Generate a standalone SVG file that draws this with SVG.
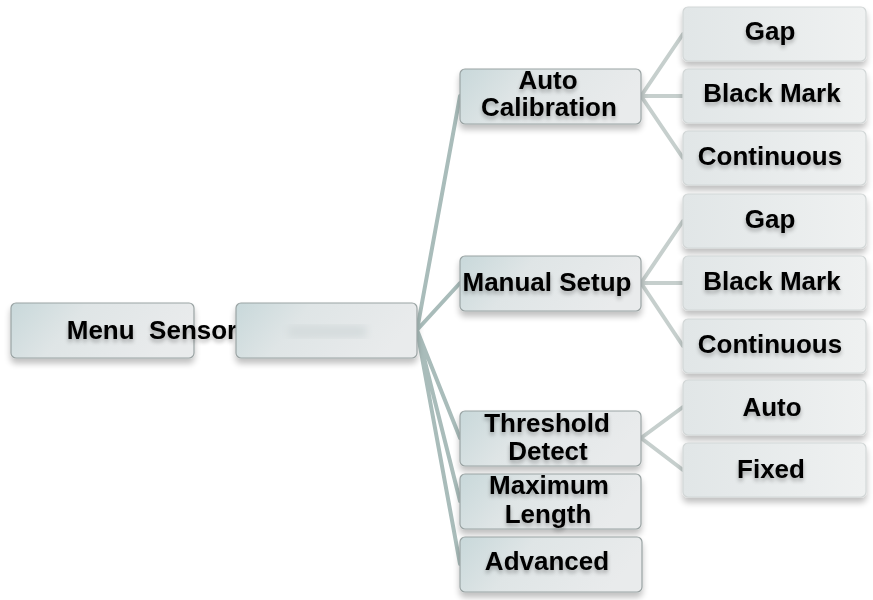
<svg xmlns="http://www.w3.org/2000/svg" width="873" height="600" viewBox="0 0 873 600">
<style>
.b{fill:url(#g);stroke:#9aa3a3;stroke-width:1.2;filter:url(#s)}
.c{fill:url(#h);stroke:#d2d7d7;stroke-width:1.2;filter:url(#s)}
.t{font-family:"Liberation Sans",Arial,sans-serif;font-weight:700;font-size:26px;fill:#050505;text-anchor:middle;filter:url(#ts)}
.l{stroke:#a9bcba;stroke-width:4;fill:none;stroke-linecap:round}
.m{stroke:#c6cfcd;stroke-width:4;fill:none;stroke-linecap:round}
</style>
<defs>
<linearGradient id="g" x1="0" y1="0" x2="1" y2="0.25"><stop offset="0" stop-color="#c8d8da"/><stop offset="0.4" stop-color="#dfe5e6"/><stop offset="1" stop-color="#e9ebec"/></linearGradient>
<linearGradient id="h" x1="0" y1="0" x2="1" y2="0"><stop offset="0" stop-color="#e1e6e7"/><stop offset="1" stop-color="#eff1f1"/></linearGradient>
<filter id="s" x="-10%" y="-20%" width="120%" height="150%"><feGaussianBlur in="SourceAlpha" stdDeviation="3"/><feOffset dy="5"/><feComponentTransfer><feFuncA type="linear" slope="0.25"/></feComponentTransfer><feMerge><feMergeNode/><feMergeNode in="SourceGraphic"/></feMerge></filter>
<filter id="ts" x="-10%" y="-20%" width="120%" height="160%"><feGaussianBlur in="SourceAlpha" stdDeviation="2"/><feOffset dy="3"/><feComponentTransfer><feFuncA type="linear" slope="0.3"/></feComponentTransfer><feMerge><feMergeNode/><feMergeNode in="SourceGraphic"/></feMerge></filter>
<filter id="bl"><feGaussianBlur stdDeviation="4"/></filter>
</defs>
<rect width="873" height="600" fill="#fff"/>
<g id="connectors">
<path class="l" d="M417 330L460 96M417 330L460 283M417 330L460 438M417 330L460 501M417 330L460 564"/>
<path class="m" d="M641 96L683 34M641 96H683M641 96L683 158M641 283L683 221M641 283H683M641 283L683 346M641 438L683 407M641 438L683 470"/>
</g>
<g id="n-menu"><rect class="b" x="11" y="303" width="183" height="55" rx="5"/><text class="t" x="152" y="339" xml:space="preserve">Menu  Sensor</text></g>
<g id="n-sensor"><rect class="b" x="236" y="303" width="181" height="55" rx="5"/><rect x="288" y="326" width="78" height="11" fill="#d3dadb" filter="url(#bl)"/></g>
<g id="n-auto-cal"><rect class="b" x="460" y="69" width="181" height="55" rx="5"/><text class="t" x="548" y="89">Auto</text><text class="t" x="549" y="116">Calibration</text></g>
<g id="n-manual"><rect class="b" x="460" y="256" width="181" height="55" rx="5"/><text class="t" x="547" y="291">Manual Setup</text></g>
<g id="n-threshold"><rect class="b" x="460" y="411" width="181" height="55" rx="5"/><text class="t" x="547" y="432">Threshold</text><text class="t" x="548" y="460">Detect</text></g>
<g id="n-maxlen"><rect class="b" x="460" y="474" width="181" height="55" rx="5"/><text class="t" x="549" y="494">Maximum</text><text class="t" x="548" y="523">Length</text></g>
<g id="n-advanced"><rect class="b" x="460" y="537" width="182" height="55" rx="5"/><text class="t" x="547" y="570">Advanced</text></g>
<g id="n-gap1"><rect class="c" x="683" y="7" width="183" height="54" rx="5"/><text class="t" x="770" y="40">Gap</text></g>
<g id="n-black1"><rect class="c" x="683" y="69" width="183" height="54" rx="5"/><text class="t" x="772" y="102">Black Mark</text></g>
<g id="n-cont1"><rect class="c" x="683" y="131" width="183" height="54" rx="5"/><text class="t" x="770" y="165">Continuous</text></g>
<g id="n-gap2"><rect class="c" x="683" y="194" width="183" height="54" rx="5"/><text class="t" x="770" y="228">Gap</text></g>
<g id="n-black2"><rect class="c" x="683" y="256" width="183" height="54" rx="5"/><text class="t" x="772" y="290">Black Mark</text></g>
<g id="n-cont2"><rect class="c" x="683" y="319" width="183" height="54" rx="5"/><text class="t" x="770" y="353">Continuous</text></g>
<g id="n-auto"><rect class="c" x="683" y="380" width="183" height="55" rx="5"/><text class="t" x="772" y="416">Auto</text></g>
<g id="n-fixed"><rect class="c" x="683" y="443" width="183" height="54" rx="5"/><text class="t" x="771" y="478">Fixed</text></g>
</svg>
